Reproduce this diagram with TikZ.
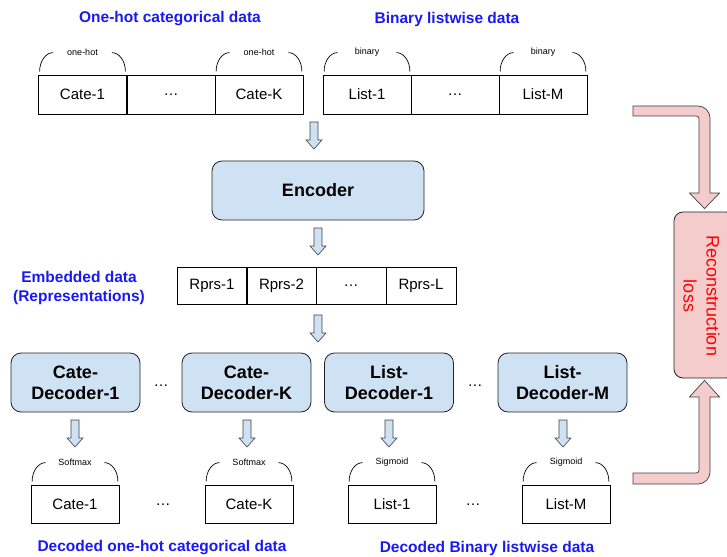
\documentclass[tikz,border=0pt]{standalone}
\usepackage{fontspec}
\setmainfont{Liberation Sans}
\usetikzlibrary{calc}
\definecolor{boxblue}{HTML}{CFE2F3}
\definecolor{losspink}{HTML}{F4CCCC}
\definecolor{titleblue}{RGB}{25,25,245}
\definecolor{lossred}{HTML}{FF0000}
\definecolor{edge}{HTML}{222222}

\tikzset{
  title/.style={text=titleblue, font=\fontsize{15.5}{19}\selectfont\bfseries, inner sep=0},
  cell/.style={draw=black, line width=0.8pt, minimum width=88, minimum height=39, inner sep=0,
    font=\fontsize{15}{18}\selectfont},
  rcell/.style={cell, minimum width=70, minimum height=37},
  block/.style={draw=edge, fill=boxblue, line width=0.8pt, rounded corners=10, inner sep=0,
    align=center, font=\fontsize{18}{21}\selectfont\bfseries},
  dots/.style={inner sep=0, font=\fontsize{15}{18}\selectfont},
  brlabel/.style={inner sep=0, font=\fontsize{9}{10}\selectfont},
  bracketline/.style={draw=black, line width=0.7pt},
  arrowblk/.style={draw=black!75, fill=boxblue, line width=0.6pt, line join=miter},
  pinkarrow/.style={draw=black!75, fill=losspink, line width=0.7pt, line join=miter},
  lossbox/.style={draw=edge, fill=losspink, line width=0.8pt, rounded corners=9,
    minimum width=61, minimum height=166, inner sep=0},
  downarrow/.pic={\path[arrowblk] (-4,0) -- (4,0) -- (4,18) -- (8,18) -- (0,27)
    -- (-8,18) -- (-4,18) -- cycle;}
}

% curved bracket with a small caption above a cell
\newcommand\bracketover[2]{%
  \draw[bracketline] ($(#1.north west)+(1.5,-3)$) .. controls +(0,-11) and +(-7,0)
    .. ($(#1.north west)+(15,-22)$);
  \draw[bracketline] ($(#1.north east)+(-15,-22)$) .. controls +(7,0) and +(0,-11)
    .. ($(#1.north east)+(-1.5,-3)$);
  \node[brlabel] (#1-lbl) at ($(#1.north)+(0,-22)$) {#2};
}

\begin{document}
\begin{tikzpicture}[x=1pt,y=-1pt]
\useasboundingbox (0,0) rectangle (727,556);

% input data
\node[title] (tcat) at (170,19) {One-hot categorical data};
\node[title] (tlist) at (447,19) {Binary listwise data};

\node[cell] (c1) at (82.5,94.5) {Cate-1};
\node[cell] (cdots) at (171,94.5) {…};
\node[cell] (cK) at (259,94.5) {Cate-K};
\node[cell] (l1) at (367,94.5) {List-1};
\node[cell] (ldots) at (455,94.5) {…};
\node[cell] (lM) at (543,94.5) {List-M};
\bracketover{c1}{one-hot}
\bracketover{cK}{one-hot}
\bracketover{l1}{binary}
\bracketover{lM}{binary}

% encoder
\pic (ar1) at (314,122) {downarrow};
\node[block, minimum width=212, minimum height=59] (enc) at (318,190.5) {Encoder};
\pic (ar2) at (318,228) {downarrow};

% representations
\node[title, align=center] (emb) at (79,287.5) {Embedded data\\(Representations)};
\node[rcell] (r1) at (212,285.5) {Rprs-1};
\node[rcell] (r2) at (281.5,285.5) {Rprs-2};
\node[rcell] (rdots) at (351,285.5) {…};
\node[rcell] (rL) at (421,285.5) {Rprs-L};
\pic (ar3) at (318,315) {downarrow};

% decoders
\node[block, minimum width=129, minimum height=59] (dc1) at (75.5,382.5) {Cate-\\Decoder-1};
\node[dots] (dcdots) at (161,386) {…};
\node[block, minimum width=129, minimum height=59] (dcK) at (246.5,382.5) {Cate-\\Decoder-K};
\node[block, minimum width=129, minimum height=59] (dl1) at (389,382.5) {List-\\Decoder-1};
\node[dots] (dldots) at (475,386) {…};
\node[block, minimum width=129, minimum height=59] (dlM) at (562.5,382.5) {List-\\Decoder-M};

\pic (ar4) at (75,420) {downarrow};
\pic (ar5) at (247,420) {downarrow};
\pic (ar6) at (389,420) {downarrow};
\pic (ar7) at (563,420) {downarrow};

% decoded outputs
\node[cell, minimum height=38] (oc1) at (75,504) {Cate-1};
\node[dots] (ocdots) at (163,505) {…};
\node[cell, minimum height=38] (ocK) at (249,504) {Cate-K};
\node[cell, minimum height=38] (ol1) at (392,504) {List-1};
\node[dots] (oldots) at (473,505) {…};
\node[cell, minimum height=38] (olM) at (566,504) {List-M};
\bracketover{oc1}{Softmax}
\bracketover{ocK}{Softmax}
\bracketover{ol1}{Sigmoid}
\bracketover{olM}{Sigmoid}

\node[title] (bcat) at (162,548) {Decoded one-hot categorical data};
\node[title] (blist) at (487,548) {Decoded Binary listwise data};

% reconstruction loss
\node[lossbox] (loss) at (704.5,295) {};
\node[rotate=-90, align=center, text=lossred, inner sep=0,
  font=\fontsize{18}{23}\selectfont] (losstext) at (701.5,296) {Reconstruction\\loss};

\coordinate (fbin) at (633,111);
\coordinate (fbout) at (633,478.5);
\path[pinkarrow] ($(fbin)+(0,-5)$) -- (698,106) .. controls (704.6,106) and (710,111.4) .. (710,118)
  -- (710,193) -- (719.5,193) -- ($(loss.north)+(0,-3)$) -- (689.5,193) -- (699,193)
  -- (699,119) .. controls (699,117) and (698,116) .. (696,116) -- ($(fbin)+(0,5)$) -- cycle;
\path[pinkarrow] ($(fbout)+(0,5.5)$) -- (698,484) .. controls (704.6,484) and (710,478.6) .. (710,472)
  -- (710,397) -- (719.5,397) -- ($(loss.south)+(0,2)$) -- (689.5,397) -- (699,397)
  -- (699,470) .. controls (699,472) and (698,473) .. (696,473) -- ($(fbout)+(0,-5.5)$) -- cycle;
\end{tikzpicture}
\end{document}
